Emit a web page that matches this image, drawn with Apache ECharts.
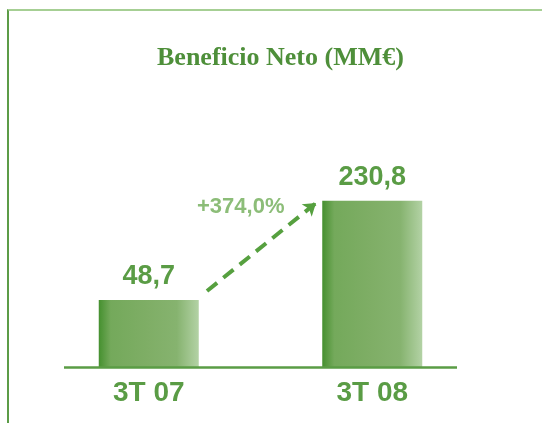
<!DOCTYPE html>
<html>
<head>
    <meta charset="utf-8" />
    <title>Beneficio Neto</title>
    <script src="https://cdn.jsdelivr.net/npm/echarts@6.0.0/dist/echarts.min.js"></script>
    <style>
        * { margin: 0; padding: 0; box-sizing: border-box; }
        body { background: #fff; width: 542px; height: 423px; overflow: hidden; position: relative; }
        #chart { position: absolute; left: 0; top: 0; width: 542px; height: 423px; }
        .frame {
            position: absolute; left: 7px; top: 9px; width: 535px; height: 414px;
            border-top: 2px solid #a6cf94; border-left: 2px solid #5c9c47;
            pointer-events: none;
        }
    </style>
</head>
<body>
    <div id="chart"></div>
    <div class="frame"></div>

    <script>
        // datos
        const periods = ['3T 07', '3T 08'];
        const netProfit = [48.7, 230.8];
        const growthLabel = '+374,0%';

        const chart = echarts.init(document.getElementById('chart'));

        const fmt = v => v.toFixed(1).replace('.', ',');

        const option = {
            animation: false,
            title: {
                text: 'Beneficio Neto (MM€)',
                left: 152,
                top: 40,
                textStyle: {
                    color: '#4e8f3a',
                    fontFamily: 'Liberation Serif',
                    fontWeight: 'bold',
                    fontSize: 26
                }
            },
            grid: { left: 37, right: 58, top: 174.4, bottom: 56 },
            xAxis: {
                type: 'category',
                data: periods,
                axisLine: { show: false },
                axisTick: { show: false },
                axisLabel: {
                    margin: 12,
                    color: '#5a9c45',
                    fontFamily: 'Liberation Sans',
                    fontWeight: 'bold',
                    fontSize: 28
                }
            },
            yAxis: {
                type: 'value',
                min: 0,
                max: 250,
                show: false,
                splitLine: { show: false },
                breaks: [{ start: 60, end: 171, gap: 1 }],
                breakArea: { show: false }
            },
            series: [{
                type: 'bar',
                data: netProfit,
                barWidth: 100,
                itemStyle: {
                    color: new echarts.graphic.LinearGradient(0, 0, 1, 0, [
                        { offset: 0, color: '#45902f' },
                        { offset: 0.12, color: '#74a95b' },
                        { offset: 0.5, color: '#7fae66' },
                        { offset: 0.78, color: '#86b36f' },
                        { offset: 1, color: '#b3d2a5' }
                    ])
                },
                label: {
                    show: true,
                    position: 'top',
                    distance: 10,
                    formatter: p => fmt(p.value),
                    color: '#5a9c45',
                    fontFamily: 'Liberation Sans',
                    fontWeight: 'bold',
                    fontSize: 27
                },
                markLine: {
                    silent: true,
                    symbol: 'none',
                    label: { show: false },
                    lineStyle: { color: '#5a9c45', type: 'solid', width: 2.5 },
                    data: [
                        [{ x: 64, yAxis: 0 }, { x: 457, yAxis: 0 }]
                    ]
                },
                z: 3
            }, {
                type: 'line',
                data: [],
                markLine: {
                    silent: true,
                    symbol: ['none', 'arrow'],
                    symbolSize: [12, 12],
                    label: { show: false },
                    lineStyle: { color: '#56a03f', type: [13, 8], width: 4 },
                    data: [
                        [{ x: 207, y: 291 }, { x: 316, y: 203 }]
                    ]
                }
            }],
            graphic: [{
                type: 'text',
                left: 197,
                top: 196,
                style: {
                    text: growthLabel,
                    fill: '#8cbd78',
                    font: 'bold 22px "Liberation Sans"'
                }
            }]
        };

        chart.setOption(option);
    </script>
</body>
</html>
